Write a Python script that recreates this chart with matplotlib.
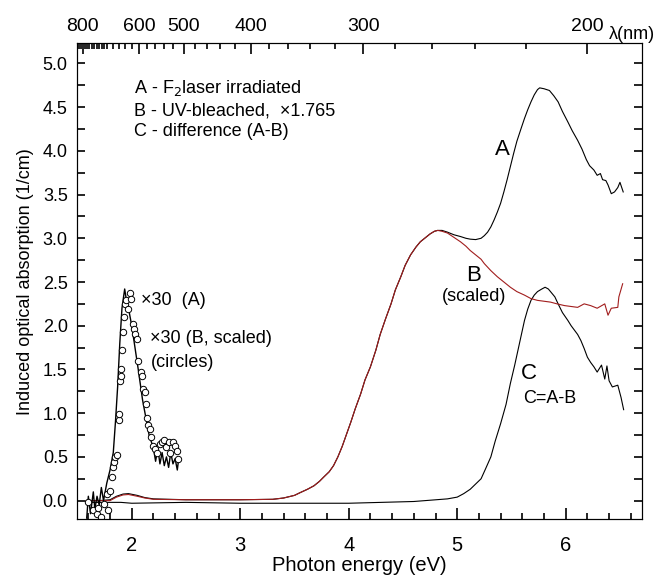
import matplotlib
matplotlib.use("Agg")
import matplotlib.pyplot as plt

plt.rcParams['font.family'] = ['Liberation Sans', 'DejaVu Sans']

HC = 1239.84  # eV*nm

# --- curve A: F2 laser irradiated (black)
energy_a = [1.58, 1.70, 1.80, 1.86, 1.92, 1.97, 2.05, 2.12, 2.20, 2.50, 3.00, 3.30, 3.40,
            3.50, 3.55, 3.62, 3.68, 3.73, 3.77, 3.82, 3.86, 3.90, 3.94, 3.98, 4.02, 4.06,
            4.11, 4.15, 4.20, 4.25, 4.29, 4.34, 4.39, 4.43, 4.48, 4.52, 4.57, 4.62, 4.66,
            4.71, 4.75, 4.79, 4.82, 4.86, 4.91, 4.97, 5.03, 5.08, 5.12, 5.17, 5.22, 5.25,
            5.28, 5.31, 5.34, 5.37, 5.40, 5.43, 5.46, 5.49, 5.52, 5.55, 5.59, 5.62, 5.65,
            5.68, 5.71, 5.74, 5.76, 5.80, 5.85, 5.89, 5.93, 5.97, 6.02, 6.06, 6.11, 6.15,
            6.19, 6.22, 6.26, 6.29, 6.32, 6.34, 6.37, 6.39, 6.42, 6.45, 6.48, 6.50, 6.53]
abs_a = [0.00, 0.00, 0.01, 0.05, 0.075, 0.08, 0.06, 0.035, 0.02, 0.01, 0.01, 0.015, 0.03,
         0.06, 0.09, 0.13, 0.17, 0.22, 0.27, 0.33, 0.40, 0.50, 0.62, 0.76, 0.90, 1.05,
         1.22, 1.38, 1.53, 1.72, 1.90, 2.08, 2.25, 2.41, 2.56, 2.69, 2.81, 2.90, 2.96,
         3.01, 3.05, 3.08, 3.09, 3.09, 3.07, 3.04, 3.02, 3.00, 2.99, 2.985, 3.00, 3.03,
         3.07, 3.13, 3.21, 3.30, 3.40, 3.53, 3.67, 3.82, 3.97, 4.11, 4.26, 4.37, 4.47,
         4.56, 4.64, 4.70, 4.72, 4.71, 4.69, 4.63, 4.56, 4.45, 4.33, 4.23, 4.12, 4.02,
         3.90, 3.83, 3.78, 3.72, 3.74, 3.67, 3.66, 3.61, 3.51, 3.53, 3.58, 3.64, 3.53]

# --- curve B: UV-bleached, scaled x1.765 (red)
energy_b = [1.58, 1.70, 1.80, 1.86, 1.92, 1.97, 2.05, 2.12, 2.20, 2.50, 3.00, 3.30, 3.40,
            3.50, 3.55, 3.62, 3.68, 3.73, 3.77, 3.82, 3.86, 3.90, 3.94, 3.98, 4.02, 4.06,
            4.11, 4.15, 4.20, 4.25, 4.29, 4.34, 4.39, 4.43, 4.48, 4.52, 4.57, 4.62, 4.66,
            4.71, 4.75, 4.79, 4.82, 4.86, 4.91, 4.97, 5.03, 5.08, 5.12, 5.17, 5.22, 5.25,
            5.31, 5.37, 5.43, 5.49, 5.55, 5.62, 5.68, 5.74, 5.80, 5.86, 5.92, 5.99, 6.05,
            6.11, 6.17, 6.23, 6.29, 6.36, 6.39, 6.42, 6.48, 6.49, 6.525]
abs_b = [0.00, 0.00, 0.00, 0.04, 0.065, 0.07, 0.05, 0.03, 0.015, 0.01, 0.01, 0.015, 0.03,
         0.06, 0.09, 0.13, 0.17, 0.22, 0.27, 0.33, 0.40, 0.50, 0.62, 0.76, 0.90, 1.05,
         1.22, 1.38, 1.53, 1.72, 1.90, 2.08, 2.25, 2.41, 2.56, 2.69, 2.81, 2.90, 2.96,
         3.01, 3.05, 3.08, 3.09, 3.08, 3.06, 3.01, 2.96, 2.91, 2.86, 2.81, 2.76, 2.71,
         2.63, 2.56, 2.50, 2.44, 2.39, 2.35, 2.31, 2.29, 2.28, 2.27, 2.25, 2.23, 2.22,
         2.21, 2.25, 2.23, 2.20, 2.25, 2.12, 2.20, 2.21, 2.33, 2.48]

# --- curve C: difference A-B (black)
energy_c = [1.58, 1.90, 2.00, 2.50, 3.00, 3.50, 4.00, 4.60, 4.91, 5.00, 5.06, 5.12, 5.17,
            5.22, 5.26, 5.31, 5.35, 5.40, 5.45, 5.49, 5.53, 5.56, 5.59, 5.62, 5.65, 5.68,
            5.71, 5.74, 5.78, 5.81, 5.84, 5.86, 5.90, 5.93, 5.97, 6.02, 6.05, 6.08, 6.11,
            6.14, 6.17, 6.20, 6.23, 6.26, 6.29, 6.33, 6.36, 6.38, 6.40, 6.43, 6.48, 6.51,
            6.534]
abs_c = [-0.02, -0.02, -0.03, -0.02, -0.03, -0.03, -0.03, -0.01, 0.02, 0.04, 0.08, 0.13,
         0.19, 0.25, 0.36, 0.50, 0.68, 0.88, 1.10, 1.34, 1.55, 1.72, 1.89, 2.06, 2.19,
         2.29, 2.35, 2.39, 2.42, 2.44, 2.42, 2.39, 2.33, 2.25, 2.15, 2.06, 2.00, 1.95,
         1.90, 1.83, 1.74, 1.64, 1.58, 1.53, 1.47, 1.55, 1.39, 1.54, 1.37, 1.30, 1.32,
         1.18, 1.04]

# --- x30 magnified A band near 2 eV (line)
energy_a30 = [1.585, 1.60, 1.62, 1.646, 1.66, 1.68, 1.70, 1.72, 1.74, 1.77, 1.80, 1.83,
              1.85, 1.87, 1.89, 1.91, 1.935, 1.95, 1.97, 2.00, 2.03, 2.06, 2.10, 2.13,
              2.16, 2.20, 2.22, 2.24, 2.26, 2.28, 2.30, 2.32, 2.34, 2.36, 2.38, 2.40,
              2.42, 2.43]
abs_a30 = [-0.20, 0.05, -0.15, 0.10, -0.10, 0.05, -0.05, 0.15, 0.00, 0.20, 0.35, 0.55,
           0.90, 1.30, 1.80, 2.20, 2.42, 2.30, 2.20, 2.00, 1.75, 1.50, 1.15, 0.95,
           0.75, 0.60, 0.45, 0.60, 0.42, 0.55, 0.40, 0.50, 0.38, 0.55, 0.42, 0.48,
           0.35, 0.45]

# --- x30 magnified B band (circles)
energy_b30 = [1.60, 1.646, 1.677, 1.69, 1.72, 1.74, 1.77, 1.785, 1.80, 1.815, 1.83, 1.84,
              1.85, 1.86, 1.88, 1.885, 1.895, 1.90, 1.905, 1.91, 1.915, 1.93, 1.935, 1.95,
              1.97, 1.985, 1.99, 2.01, 2.02, 2.03, 2.05, 2.06, 2.085, 2.095, 2.105, 2.12,
              2.13, 2.14, 2.15, 2.165, 2.18, 2.20, 2.215, 2.235, 2.26, 2.28, 2.30, 2.32,
              2.34, 2.355, 2.38, 2.40, 2.415, 2.43]
abs_b30 = [-0.02, -0.11, -0.15, -0.08, -0.19, -0.04, 0.08, -0.11, 0.11, 0.27, 0.38, 0.44,
           0.50, 0.52, 0.92, 0.99, 1.37, 1.43, 1.51, 1.72, 1.93, 2.10, 2.25, 2.29,
           2.19, 2.37, 2.31, 2.02, 1.96, 1.91, 1.85, 1.60, 1.47, 1.43, 1.28, 1.24,
           1.11, 0.95, 0.87, 0.82, 0.73, 0.63, 0.59, 0.55, 0.65, 0.67, 0.69, 0.61,
           0.67, 0.55, 0.67, 0.63, 0.57, 0.48]

# top axis (wavelength, nm)
wl_major = [800, 600, 500, 400, 300, 200]
wl_minor = [820, 810, 790, 780, 770, 760, 750, 740, 730, 720, 710, 700, 680, 660, 640,
            620, 580, 560, 540, 520, 480, 460, 440, 420, 380, 360, 340, 320, 280, 260,
            240, 220]

RED = '#a11d1d'

fig = plt.figure(figsize=(6.6, 5.8), dpi=100, facecolor='white')
ax = fig.add_axes([0.1174, 0.1052, 0.8548, 0.8202])

ax.plot(energy_a, abs_a, color='black', lw=0.8)
ax.plot(energy_c, abs_c, color='black', lw=0.8)
ax.plot(energy_b, abs_b, color=RED, lw=0.8)
ax.plot(energy_a30, abs_a30, color='black', lw=1.0)
ax.plot(energy_b30, abs_b30, linestyle='none', marker='o', ms=4.6, mfc='white',
        mec='black', mew=0.7)

ax.set_xlim(1.5, 6.7)
ax.set_ylim(-0.21, 5.23)
ax.set_xticks([2, 3, 4, 5, 6])
ax.set_xticks([1.6, 1.8, 2.2, 2.4, 2.6, 2.8, 3.2, 3.4, 3.6, 3.8, 4.2, 4.4, 4.6, 4.8,
               5.2, 5.4, 5.6, 5.8, 6.2, 6.4, 6.6], minor=True)
ax.set_yticks([0.0, 0.5, 1.0, 1.5, 2.0, 2.5, 3.0, 3.5, 4.0, 4.5, 5.0])
ax.set_yticks([0.25, 0.75, 1.25, 1.75, 2.25, 2.75, 3.25, 3.75, 4.25, 4.75], minor=True)
ax.yaxis.set_major_formatter(matplotlib.ticker.FormatStrFormatter('%.1f'))
ax.set_axisbelow(False)

ax.set_xlabel('Photon energy (eV)', fontsize=14.5, labelpad=1)
ax.set_ylabel('Induced optical absorption (1/cm)', fontsize=13, labelpad=6)

# annotations
ax.text(2.02, 4.72, 'A - F$_2$laser irradiated', fontsize=13, va='center')
ax.text(2.02, 4.46, 'B - UV-bleached,  ×1.765', fontsize=13, va='center')
ax.text(2.02, 4.22, 'C - difference (A-B)', fontsize=13, va='center')
ax.text(5.42, 4.01, 'A', fontsize=16, ha='center', va='center')
ax.text(5.155, 2.58, 'B', fontsize=16, ha='center', va='center')
ax.text(5.155, 2.33, '(scaled)', fontsize=13, ha='center', va='center')
ax.text(5.66, 1.45, 'C', fontsize=16, ha='center', va='center')
ax.text(5.85, 1.165, 'C=A-B', fontsize=13, ha='center', va='center')
ax.text(2.09, 2.29, '×30  (A)', fontsize=13, va='center')
ax.text(2.17, 1.85, '×30 (B, scaled)', fontsize=13, va='center')
ax.text(2.175, 1.585, '(circles)', fontsize=13, va='center')

# wavelength axis on top
top = ax.twiny()
top.set_xlim(ax.get_xlim())
top.set_xticks([HC / w for w in wl_major])
top.set_xticklabels([str(w) for w in wl_major])
top.set_xticks([HC / w for w in wl_minor], minor=True)
fig.text(0.922, 0.941, 'λ(nm)', fontsize=13, ha='left', va='center')

# tick styling
top.tick_params(axis='x', which='major', direction='in', length=8, width=1.2,
                labelsize=14, pad=6)
top.tick_params(axis='x', which='minor', direction='in', length=4, width=1.2)
ax.tick_params(axis='x', which='major', direction='in', length=8, width=1.2,
               labelsize=14.5, pad=12, bottom=True, top=False)
ax.tick_params(axis='x', which='minor', direction='in', length=4, width=1.2,
               bottom=True, top=False)
ax.tick_params(axis='y', which='major', direction='in', length=6, width=1.2,
               labelsize=13, pad=7, left=True, right=True)
ax.tick_params(axis='y', which='minor', direction='in', length=6, width=1.2,
               left=True, right=True)

fig.savefig('out.png', dpi=100, facecolor='white')
